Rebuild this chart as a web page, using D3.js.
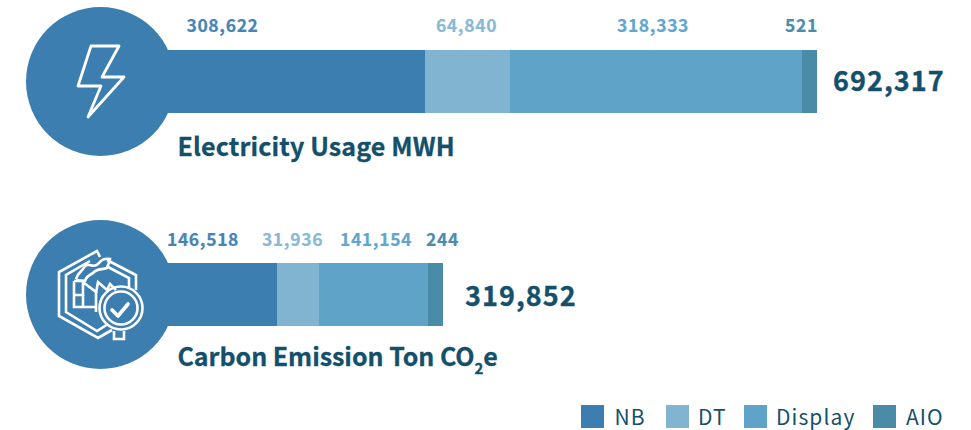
<!DOCTYPE html>
<html><head><meta charset="utf-8">
<script src="https://cdn.jsdelivr.net/npm/d3@7/dist/d3.min.js"></script>
<style>html,body{margin:0;background:#fff}svg{display:block}text{font-family:"Noto Sans CJK TC","Noto Sans",sans-serif}</style>
</head><body><svg id="c" width="971" height="430"></svg>
<script>
const categories = ["NB","DT","Display","AIO"];
const colors = ["#3d7eb0","#80b4d1","#5fa3c8","#4a8ba8"];
const labelColors = ["#4585b6","#88b9d6","#62a6cd","#4a8cab"];
const metricNames = ["Electricity Usage MWH","Carbon Emission Ton CO"];
const electricityValues = [308622,64840,318333,521];
const carbonValues = [146518,31936,141154,244];
const totals = [692317,319852];
// The source bars are not drawn to scale: these are the lengths the picture shows, in value units.
const electricityDrawn = [247900,64840,222300,11450];
const carbonDrawn = [135000,31936,83100,11450];

const svg = d3.select("#c");
const dark = "#14506b";
const fmt = d3.format(",");
const x = d3.scaleLinear().domain([0,762000]).rangeRound([100,1100]);
const bandY = d3.scaleOrdinal().domain([0,1]).range([50,263]);
const barH = 63;
const rows = [
 {values:electricityValues,drawn:electricityDrawn,total:totals[0],name:metricNames[0],nameLs:0.14,
  labelX:[222.5,466.5,653,801.5],labelY:32,totalX:833,totalY:91,nameY:156,cy:81.5},
 {values:carbonValues,drawn:carbonDrawn,total:totals[1],name:metricNames[1],nameLs:-0.04,
  labelX:[203,292.5,376,442.5],labelY:246,totalX:465,totalY:306,nameY:366,cy:294.5}
];
rows.forEach((r,ri)=>{
  const g = svg.append("g");
  let cum = 0;
  const segs = r.drawn.map((d,i)=>{const s={i,a:cum,b:cum+d};cum+=d;return s;});
  g.selectAll("rect").data(segs).join("rect")
    .attr("x",d=>x(d.a)).attr("width",d=>x(d.b)-x(d.a))
    .attr("y",bandY(ri)).attr("height",barH).attr("fill",d=>colors[d.i]);
  g.append("circle").attr("cx",x(0)+0.5).attr("cy",r.cy).attr("r",74.5).attr("fill",colors[0]);
  g.selectAll("text.v").data(r.values).join("text").attr("class","v")
    .attr("x",(d,i)=>r.labelX[i]).attr("y",r.labelY).attr("text-anchor","middle")
    .attr("font-size",17.5).attr("font-weight",700).attr("letter-spacing",0.65)
    .attr("stroke",(d,i)=>labelColors[i]).attr("stroke-width",0.2)
    .attr("fill",(d,i)=>labelColors[i]).text(d=>fmt(d));
  g.append("text").attr("x",r.totalX).attr("y",r.totalY).attr("font-size",27)
    .attr("font-weight",700).attr("letter-spacing",1.05).attr("fill",dark)
    .attr("stroke",dark).attr("stroke-width",0.35).text(fmt(r.total));
  const t = g.append("text").attr("x",177.5).attr("y",r.nameY).attr("font-size",25)
    .attr("letter-spacing",r.nameLs)
    .attr("font-weight",700).attr("fill",dark).attr("stroke",dark).attr("stroke-width",0.3);
  t.append("tspan").text(r.name);
  if(ri===1){
    t.append("tspan").attr("font-size",15).attr("dy",8).text("2");
    t.append("tspan").attr("dy",-8).text("e");
  }
});

// bolt icon
const icons = svg.append("g").attr("fill","none").attr("stroke","#fff").attr("stroke-linejoin","round").attr("stroke-linecap","round");
icons.append("path").attr("stroke-width",2.8)
  .attr("d","M91,46L119,46L102,77L124,77L88,117L101,86L78,86Z");
// factory / magnifier icon
const f = icons.append("g").attr("stroke-width",2.6).attr("stroke-linecap","butt").attr("stroke-linejoin","miter");
f.append("path").attr("d","M100,257L97,251L59,272L59,316L98,338L112,330");
f.append("path").attr("d","M90,261L66,275L66,312L97,331L108,324");
f.append("path").attr("d","M107,260L132,273L136,275L136,290");
f.append("path").attr("d","M108,267L129,278L129,288");
f.append("path").attr("d","M76,279C78,272 82,272 85,266C89,262 93,269 98,264C101,261 102,258 110,259C110,262 108,264 107,268C101,270 97,268 93,273C89,275 86,277 85,281L76,280");
f.append("path").attr("d","M74,281L83,281L83,296M74,281L74,307L96,307");
f.append("path").attr("d","M74,295L83,295M83,295L83,307");
f.append("path").attr("d","M84,283L96,292L96,312");
f.append("path").attr("d","M96,293L98,282L107,290L110,284L116,290");
f.append("circle").attr("cx",121).attr("cy",308).attr("r",21.5);
f.append("circle").attr("cx",121).attr("cy",308).attr("r",16.5);
f.append("path").attr("d","M114,331L114,339L124,339L124,331");
icons.append("path").attr("stroke-width",3.6).attr("d","M112,310L118,316L128,304");

// legend
const legendX = [581,666,744,873];
const legendGap = [33.5,32,32,33];
const lg = svg.append("g").selectAll("g").data(categories).join("g")
  .attr("transform",(d,i)=>`translate(${legendX[i]},405)`);
lg.append("rect").attr("width",23).attr("height",23).attr("fill",(d,i)=>colors[i]);
lg.append("text").attr("x",(d,i)=>legendGap[i]).attr("y",20).attr("font-size",21).attr("letter-spacing",1.1)
  .attr("fill",dark).text(d=>d);
</script></body></html>
